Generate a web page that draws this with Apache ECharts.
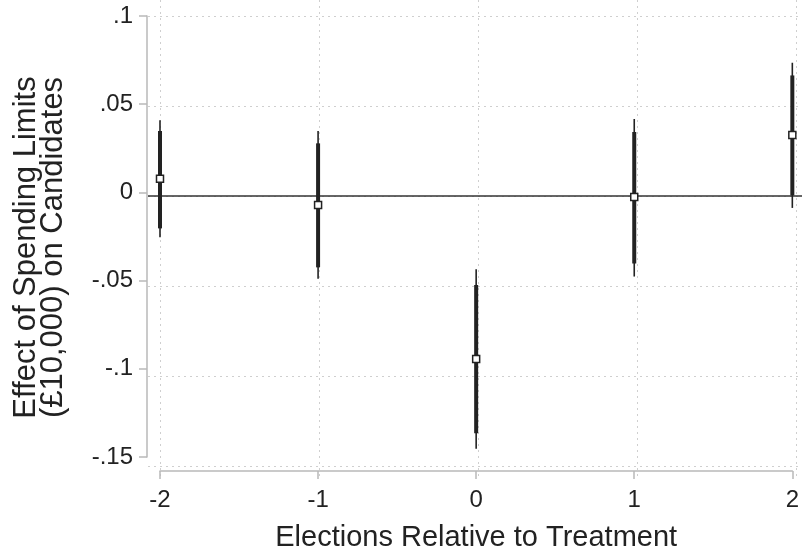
<!DOCTYPE html>
<html>
<head>
<meta charset="utf-8">
<script src="https://cdn.jsdelivr.net/npm/echarts@6/dist/echarts.min.js"></script>
<style>
  html, body { margin: 0; padding: 0; background: #fff; }
  #main { width: 802px; height: 557px; }
</style>
</head>
<body>
<div id="main"></div>
<script>
// elections relative to treatment
var periods = [-2, -1, 0, 1, 2];
// point estimates
var coef = [0.0077, -0.0072, -0.0945, -0.0026, 0.0326];
// thick bars (inner interval)
var innerLow = [-0.0204, -0.0425, -0.1365, -0.0403, -0.0017];
var innerHigh = [0.0348, 0.0278, -0.0525, 0.0343, 0.0663];
// thin lines (outer interval)
var outerLow = [-0.0254, -0.0490, -0.1453, -0.0477, -0.0088];
var outerHigh = [0.0409, 0.0348, -0.0436, 0.0416, 0.0735];

var yTicks = [-0.15, -0.1, -0.05, 0, 0.05, 0.1];
var yTickLabels = ['-.15', '-.1', '-.05', '0', '.05', '.1'];
var xTickLabels = ['-2', '-1', '0', '1', '2'];

var font = "'Liberation Sans', Arial, Helvetica, sans-serif";
var ink = '#222';
var axisGrey = '#b9b9b9';
var dots = { color: '#cfcfcf', width: 1, type: [2, 4] };

var ciData = periods.map(function (p, i) {
  return [p, innerLow[i], innerHigh[i], outerLow[i], outerHigh[i]];
});
var pointData = periods.map(function (p, i) { return [p, coef[i]]; });

function yLabel(v) {
  for (var i = 0; i < yTicks.length; i++) {
    if (Math.abs(yTicks[i] - v) < 1e-9) return yTickLabels[i];
  }
  return '';
}
function xLabel(v) {
  var i = periods.indexOf(Math.round(v));
  return i >= 0 ? xTickLabels[i] : '';
}

var chart = echarts.init(document.getElementById('main'));
chart.setOption({
  animation: false,
  backgroundColor: '#fff',
  grid: [
    // data + axes
    { left: 160, right: 6, top: 16, bottom: 91 },
    // vertical dotted lines (full plot height)
    { left: 160, right: 6, top: 0, bottom: 80 },
    // horizontal dotted lines + zero line (full plot width)
    { left: 148, right: 0, top: 16, bottom: 91 }
  ],
  xAxis: [
    {
      gridIndex: 0, type: 'value', min: -2, max: 2, interval: 1, offset: 14,
      axisLine: { onZero: false, lineStyle: { color: axisGrey, width: 1.5 } },
      axisTick: { length: 8, lineStyle: { color: axisGrey, width: 1.5 } },
      axisLabel: { fontFamily: font, fontSize: 24, color: ink, margin: 17, formatter: xLabel },
      splitLine: { show: false },
      name: 'Elections Relative to Treatment', nameLocation: 'middle', nameGap: 52,
      nameTextStyle: { fontFamily: font, fontSize: 29, color: ink }
    },
    {
      gridIndex: 1, type: 'value', min: -2, max: 2, interval: 1,
      axisLine: { show: false }, axisTick: { show: false }, axisLabel: { show: false },
      splitLine: { show: true, lineStyle: dots }
    },
    {
      gridIndex: 2, type: 'value', min: 0, max: 1, show: false
    }
  ],
  yAxis: [
    {
      gridIndex: 0, type: 'value', min: -0.15, max: 0.1, interval: 0.05, offset: 13,
      axisLine: { show: true, onZero: false, lineStyle: { color: axisGrey, width: 1.5 } },
      axisTick: { show: true, length: 8, lineStyle: { color: axisGrey, width: 1.5 } },
      axisLabel: { fontFamily: font, fontSize: 24, color: ink, margin: 14, formatter: yLabel },
      splitLine: { show: false },
      name: 'Effect of Spending Limits\n(£10,000) on Candidates',
      nameLocation: 'middle', nameGap: 80,
      nameTextStyle: {
        fontFamily: font, fontSize: 31, color: ink, lineHeight: 27,
        align: 'center', padding: [0, 22, 0, 0]
      }
    },
    {
      gridIndex: 1, type: 'value', min: 0, max: 1, show: false
    },
    {
      gridIndex: 2, type: 'value', min: -0.15, max: 0.1, interval: 0.05,
      axisLine: { show: false }, axisTick: { show: false }, axisLabel: { show: false },
      splitLine: { show: true, lineStyle: dots }
    }
  ],
  series: [
    {
      // zero reference line across the plot
      type: 'line', xAxisIndex: 2, yAxisIndex: 2,
      data: [[0, 0], [1, 0]], symbol: 'none', silent: true,
      lineStyle: { color: '#333', width: 1.5 }, z: 2
    },
    {
      type: 'custom', xAxisIndex: 0, yAxisIndex: 0, z: 3,
      data: ciData,
      encode: { x: 0, y: [1, 2, 3, 4] },
      renderItem: function (params, api) {
        var x = api.value(0);
        var a = api.coord([x, api.value(3)]);
        var b = api.coord([x, api.value(4)]);
        var c = api.coord([x, api.value(1)]);
        var d = api.coord([x, api.value(2)]);
        return {
          type: 'group',
          children: [
            { type: 'line', shape: { x1: a[0], y1: a[1], x2: b[0], y2: b[1] },
              style: { stroke: ink, lineWidth: 1.6 } },
            { type: 'line', shape: { x1: c[0], y1: c[1], x2: d[0], y2: d[1] },
              style: { stroke: ink, lineWidth: 4 } }
          ]
        };
      }
    },
    {
      type: 'scatter', xAxisIndex: 0, yAxisIndex: 0, z: 4,
      data: pointData, symbol: 'rect', symbolSize: 7,
      itemStyle: { color: '#fff', borderColor: ink, borderWidth: 1.5, opacity: 1 }
    }
  ]
});
</script>
</body>
</html>
